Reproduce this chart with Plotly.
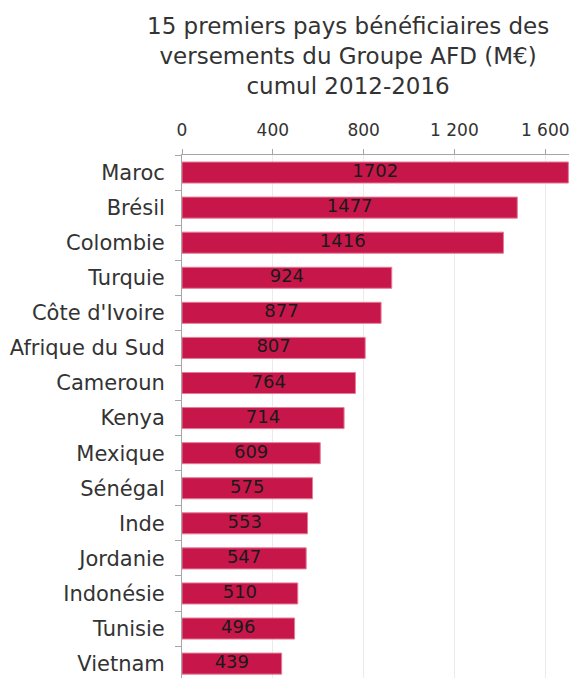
import plotly.graph_objects as go

countries = ["Maroc", "Brésil", "Colombie", "Turquie", "Côte d'Ivoire",
             "Afrique du Sud", "Cameroun", "Kenya", "Mexique", "Sénégal",
             "Inde", "Jordanie", "Indonésie", "Tunisie", "Vietnam"]
amounts = [1702, 1477, 1416, 924, 877, 807, 764, 714, 609, 575,
           553, 547, 510, 496, 439]
tick_vals = [0, 400, 800, 1200, 1600]
tick_text = ["0", "400", "800", "1 200", "1 600"]

font_family = "DejaVu Sans"
text_color = "#333333"

# the page body keeps its default 8px margin, so the figure is placed at (8, 8)
fig = go.Figure()
fig.add_trace(
    go.Bar(
        x=amounts,
        y=countries,
        orientation="h",
        marker=dict(color="#C7174A", line=dict(color="#E57C98", width=1)),
        hoverinfo="x+y",
    )
)
# value labels centred in each bar, kept at full size
fig.add_trace(
    go.Scatter(
        x=[v / 2 for v in amounts],
        y=countries,
        mode="text",
        text=[str(v) for v in amounts],
        textposition="middle center",
        textfont=dict(color="#1a1a1a", size=18, family=font_family),
        hoverinfo="skip",
    )
)

fig.update_layout(
    width=569,
    height=670,
    margin=dict(l=174, r=0, t=147, b=0),
    paper_bgcolor="white",
    plot_bgcolor="white",
    bargap=0.4,
    showlegend=False,
    font=dict(family=font_family, color=text_color),
    annotations=[
        dict(
            text="15 premiers pays bénéficiaires des<br>versements du Groupe AFD (M€)<br>cumul 2012-2016",
            xref="paper",
            yref="paper",
            x=(348 - 182) / 395,
            xanchor="center",
            y=1 + (155 - 11) / 523,
            yanchor="top",
            showarrow=False,
            font=dict(size=23, color=text_color, family=font_family),
        )
    ],
    xaxis=dict(
        side="top",
        range=[0, 1740],
        tickvals=tick_vals,
        ticktext=tick_text,
        tickfont=dict(size=17, color=text_color),
        showgrid=True,
        gridcolor="#EBEBEB",
        gridwidth=1,
        showline=True,
        linecolor="#A6A6A6",
        linewidth=1,
        ticks="outside",
        ticklen=5,
        tickcolor="#A6A6A6",
        ticklabelstandoff=6,
        zeroline=False,
        automargin=False,
        fixedrange=True,
    ),
    yaxis=dict(
        categoryorder="array",
        categoryarray=countries,
        range=[14.41, -0.5],
        tickfont=dict(size=21, color=text_color),
        showline=True,
        linecolor="#A6A6A6",
        linewidth=1,
        ticks="outside",
        ticklen=6,
        tickcolor="#A6A6A6",
        tickson="boundaries",
        ticklabelstandoff=12,
        showgrid=False,
        automargin=False,
        fixedrange=True,
    ),
)

fig.write_html("out.html")
